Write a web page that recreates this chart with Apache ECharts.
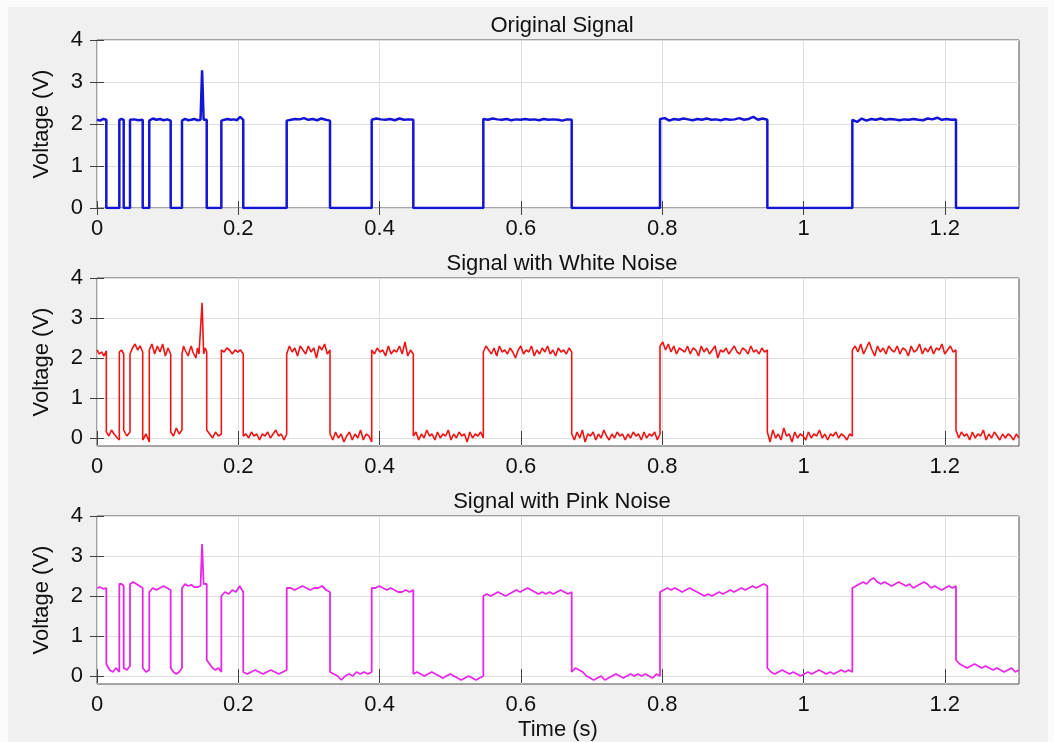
<!DOCTYPE html>
<html>
<head>
<meta charset="utf-8">
<script src="https://cdn.jsdelivr.net/npm/echarts@6/dist/echarts.min.js"></script>
<style>
  html, body { margin: 0; padding: 0; background: #fafafa; }
  #main { width: 1054px; height: 742px; }
</style>
</head>
<body>
<div id="main"></div>
<script>
// switching times (s), shared by the three traces
var edges = [0.0132, 0.0316, 0.0378, 0.0467, 0.0647, 0.074, 0.1043, 0.1203, 0.1553, 0.176, 0.207,
  0.2685, 0.3298, 0.3888, 0.4477, 0.5468, 0.6719, 0.7969, 0.9488, 1.0691, 1.2158];
var tEnd = 1.305;
var xTicks = [0, 0.2, 0.4, 0.6, 0.8, 1, 1.2];
var yTicks = [0, 1, 2, 3, 4];
var titles = ['Original Signal', 'Signal with White Noise', 'Signal with Pink Noise'];

// samples per segment
var origSeg = [
  [2.1, 2.08, 2.12, 2.1],
  [0, 0],
  [2.1, 2.12, 2.1],
  [0, 0],
  [2.1, 2.11, 2.09, 2.1],
  [0, 0],
  [2.08, 2.13, 2.1, 2.12, 2.09, 2.11, 2.08],
  [0, 0],
  [2.08, 2.1, 2.12, 2.1, 2.09, 2.11, 2.1, 2.08, 2.12, 2.1, 2.09, 2.11, 2.1, 3.28, 2.1, 2.12, 2.1],
  [0, 0],
  [2.08, 2.1, 2.12, 2.1, 2.11, 2.09, 2.17, 2.1],
  [0, 0],
  [2.08, 2.1, 2.12, 2.11, 2.14, 2.1, 2.12, 2.09, 2.13, 2.1, 2.08],
  [0, 0],
  [2.1, 2.13, 2.11, 2.1, 2.12, 2.09, 2.13, 2.1, 2.11, 2.1],
  [0, 0],
  [2.12, 2.1, 2.13, 2.11, 2.1, 2.12, 2.09, 2.11, 2.1, 2.12, 2.1, 2.11, 2.09, 2.12, 2.1, 2.11, 2.1, 2.08, 2.11, 2.1],
  [0, 0],
  [2.12, 2.14, 2.08, 2.12, 2.1, 2.13, 2.11, 2.09, 2.12, 2.1, 2.13, 2.1, 2.11, 2.09, 2.12, 2.1, 2.11, 2.14, 2.1, 2.12, 2.17, 2.1, 2.13, 2.1],
  [0, 0],
  [2.1, 2.05, 2.13, 2.08, 2.12, 2.1, 2.13, 2.1, 2.12, 2.11, 2.09, 2.11, 2.1, 2.12, 2.1, 2.09, 2.13, 2.11, 2.15, 2.1, 2.12, 2.1, 2.11],
  [0, 0]
];

var whiteSeg = [
  [2.2, 2.1, 2.15, 2.05, 2.18],
  [0.15, 0.05, 0.2, 0.1, 0.02, -0.05],
  [2.15, 2.2, 2.1],
  [0.2, 0.05, 0.15],
  [2.1, 2.25, 2.35, 2.2, 2.3, 2.15],
  [-0.05, 0.1, -0.1],
  [2.2, 2.35, 2.1, 2.3, 2.15, 2.35, 2.05, 2.25, 2.1],
  [0.15, 0.05, 0.25, 0.1, 0.2],
  [2.1, 2.3, 2.2, 2.25, 2.05, 2.2, 2.3, 2.15, 2.2, 2.0, 2.25, 2.1, 2.15, 3.38, 2.1, 2.25, 2.15],
  [0.2, 0.1, 0.0, 0.15, 0.05, 0.1],
  [2.2, 2.15, 2.25, 2.2, 2.1, 2.2, 2.15, 2.2, 2.1],
  [0.05, 0.1, 0.0, 0.15, 0.05, 0.1, -0.05, 0.1, 0.05, 0.15, 0.0, 0.1, 0.2, 0.05, 0.1, -0.05, 0.1],
  [2.1, 2.3, 2.15, 2.25, 2.05, 2.3, 2.2, 2.1, 2.3, 2.15, 2.25, 2.0, 2.3, 2.2, 2.35, 2.1, 2.2],
  [0.1, -0.05, 0.15, 0.0, 0.1, -0.1, 0.05, 0.15, -0.05, 0.1, 0.0, 0.2, -0.05, 0.1, 0.05, -0.1],
  [2.2, 2.1, 2.25, 2.15, 2.2, 2.05, 2.3, 2.1, 2.2, 2.15, 2.3, 2.1, 2.4, 2.05, 2.2, 2.1],
  [0.05, 0.15, -0.05, 0.1, 0.0, 0.2, 0.05, 0.1, -0.05, 0.15, 0.0, 0.1, 0.05, 0.2, -0.05, 0.1, 0.0, 0.15, 0.05, 0.1, -0.1, 0.15, 0.0, 0.1, 0.05, 0.15, 0.0],
  [2.15, 2.3, 2.2, 2.1, 2.25, 2.05, 2.3, 2.15, 2.2, 2.1, 2.25, 2.15, 2.0, 2.2, 2.3, 2.1, 2.2, 2.15, 2.3, 2.05, 2.2, 2.1, 2.25, 2.15, 2.3, 2.1, 2.2, 2.05, 2.25, 2.15, 2.2, 2.1, 2.25, 2.15],
  [0.1, -0.05, 0.15, 0.0, 0.2, -0.1, 0.1, 0.05, 0.15, -0.05, 0.1, 0.0, 0.2, 0.05, -0.05, 0.1, 0.0, 0.15, 0.05, 0.1, -0.05, 0.1, 0.0, 0.15, 0.05, 0.1, -0.05, 0.15, 0.0, 0.1, 0.05, 0.15, -0.05, 0.1],
  [2.3, 2.4, 2.2, 2.35, 2.15, 2.3, 2.1, 2.25, 2.2, 2.15, 2.3, 2.1, 2.25, 2.2, 2.05, 2.3, 2.15, 2.25, 2.1, 2.2, 2.3, 2.0, 2.2, 2.15, 2.25, 2.1, 2.2, 2.3, 2.15, 2.1, 2.25, 2.2, 2.1, 2.3, 2.15, 2.2, 2.1, 2.25, 2.15, 2.2],
  [0.15, -0.1, 0.2, 0.0, 0.1, -0.05, 0.25, 0.05, 0.1, -0.1, 0.15, 0.0, 0.1, 0.05, -0.05, 0.15, 0.0, 0.1, 0.05, 0.2, 0.0, 0.1, -0.05, 0.1, 0.05, 0.15, 0.0, 0.1, 0.05, -0.05, 0.1, 0.05],
  [2.2, 2.3, 2.15, 2.35, 2.1, 2.25, 2.4, 2.2, 2.05, 2.3, 2.15, 2.25, 2.1, 2.3, 2.2, 2.15, 2.3, 2.1, 2.25, 2.2, 2.05, 2.3, 2.15, 2.2, 2.35, 2.1, 2.25, 2.15, 2.3, 2.1, 2.25, 2.2, 2.35, 2.1, 2.2, 2.3, 2.15, 2.2],
  [0.2, 0.0, 0.15, 0.05, 0.1, -0.05, 0.15, 0.0, 0.1, 0.05, 0.2, -0.05, 0.1, 0.0, 0.15, 0.05, -0.05, 0.1, 0.0, 0.1, 0.05, -0.05, 0.1, 0.0]
];

var pinkSeg = [
  [2.2, 2.22, 2.18, 2.2],
  [0.3, 0.15, 0.1, 0.2, 0.1],
  [2.3, 2.3, 2.25],
  [0.2, 0.15, 0.25],
  [2.3, 2.35, 2.3, 2.25, 2.2],
  [0.2, 0.1, 0.15],
  [2.1, 2.2, 2.15, 2.2, 2.25, 2.2, 2.15],
  [0.2, 0.1, 0.05, 0.1, 0.2],
  [2.2, 2.25, 2.3, 2.3, 2.25, 2.25, 2.28, 2.25, 2.22, 2.2, 2.22, 2.2, 2.25, 3.3, 2.3, 2.25, 2.3],
  [0.4, 0.3, 0.2, 0.15, 0.2, 0.1],
  [2.0, 2.1, 2.05, 2.15, 2.1, 2.25, 2.1],
  [0.1, 0.05, 0.1, 0.15, 0.1, 0.05, 0.1, 0.15, 0.1, 0.05, 0.1, 0.15],
  [2.2, 2.2, 2.15, 2.2, 2.25, 2.2, 2.15, 2.2, 2.2, 2.25, 2.15, 2.1],
  [0.1, 0.05, 0.0, -0.1, 0.0, 0.05, 0.0, 0.1, 0.05, 0.1, 0.05, 0.1],
  [2.2, 2.2, 2.25, 2.2, 2.15, 2.2, 2.15, 2.1, 2.1, 2.15, 2.1, 2.15],
  [0.05, 0.1, 0.05, 0.0, 0.05, 0.1, 0.05, 0.0, -0.05, 0.0, 0.05, 0.0, -0.05, -0.1, -0.05, 0.0, -0.05, -0.1, -0.05, 0.0],
  [2.0, 2.05, 2.0, 2.05, 2.1, 2.05, 2.0, 2.05, 2.1, 2.15, 2.1, 2.15, 2.2, 2.15, 2.1, 2.05, 2.1, 2.05, 2.1, 2.05, 2.1, 2.15, 2.1, 2.05, 2.1],
  [0.1, 0.2, 0.15, 0.1, 0.0, -0.05, -0.1, -0.05, 0.0, -0.1, -0.05, 0.0, 0.05, 0.0, -0.05, 0.0, 0.05, 0.0, 0.05, 0.0, 0.05, 0.0, -0.05, 0.05, 0.0],
  [2.1, 2.15, 2.2, 2.15, 2.2, 2.15, 2.1, 2.15, 2.2, 2.15, 2.1, 2.05, 2.0, 2.05, 2.0, 2.05, 2.1, 2.05, 2.1, 2.15, 2.1, 2.15, 2.2, 2.15, 2.2, 2.25, 2.2, 2.25, 2.3, 2.25],
  [0.2, 0.1, 0.05, 0.1, 0.15, 0.1, 0.05, 0.1, 0.05, 0.0, 0.05, 0.1, 0.05, 0.1, 0.15, 0.1, 0.05, 0.1, 0.05, 0.1, 0.15, 0.1, 0.15, 0.1],
  [2.2, 2.25, 2.3, 2.35, 2.3, 2.4, 2.45, 2.35, 2.3, 2.35, 2.3, 2.25, 2.3, 2.35, 2.3, 2.25, 2.3, 2.2, 2.25, 2.3, 2.35, 2.3, 2.2, 2.25, 2.2, 2.15, 2.2, 2.25, 2.2, 2.25],
  [0.4, 0.3, 0.25, 0.2, 0.25, 0.3, 0.25, 0.2, 0.25, 0.2, 0.15, 0.2, 0.15, 0.1, 0.15, 0.2, 0.1, 0.15]
];

var chart = echarts.init(document.getElementById('main'));
var font = "'Liberation Sans', Arial, sans-serif";
var bounds = [0].concat(edges, [tEnd]);

function build(segs) {
  var pts = [];
  for (var i = 0; i < segs.length; i++) {
    var a = bounds[i], b = bounds[i + 1], vals = segs[i], n = vals.length;
    for (var k = 0; k < n; k++) {
      pts.push([a + (b - a) * k / (n - 1), vals[k]]);
    }
  }
  return pts;
}

var tops = [40, 278, 516];
var yMins = [0, -0.2, -0.2];
var colors = ['#1414d4', '#f01414', '#e628e6'];
var widths = [2.5, 1.6, 1.8];
var allSegs = [origSeg, whiteSeg, pinkSeg];

var grids = [], xAxes = [], yAxes = [], series = [], titleList = [];
for (var g = 0; g < 3; g++) {
  grids.push({
    left: 97, top: tops[g], width: 922, height: 168,
    show: true, backgroundColor: '#ffffff', borderColor: '#505050', borderWidth: 1
  });
  titleList.push({
    text: titles[g], left: 557, top: tops[g] - 30, textAlign: 'center',
    textStyle: { fontFamily: font, fontSize: 22, fontWeight: 'normal', color: '#111' }
  });
  xAxes.push({
    type: 'value', gridIndex: g, min: 0, max: tEnd, position: 'bottom',
    axisLine: { show: false },
    axisTick: { show: true, inside: true, length: 7, lineStyle: { color: '#404040' }, customValues: xTicks },
    axisLabel: { show: true, margin: 10, fontFamily: font, fontSize: 22, color: '#111', customValues: xTicks,
      formatter: function (v) { return String(v); } },
    splitLine: { show: true, lineStyle: { color: '#dedede', width: 1 } },
    name: g === 2 ? 'Time (s)' : '', nameLocation: 'middle', nameGap: 35,
    nameTextStyle: { fontFamily: font, fontSize: 22, color: '#111' }
  });
  xAxes.push({
    type: 'value', gridIndex: g, min: 0, max: tEnd, position: 'top',
    axisLine: { show: false },
    axisTick: { show: true, inside: true, length: 7, lineStyle: { color: '#404040' }, customValues: xTicks },
    axisLabel: { show: false }, splitLine: { show: false }
  });
  yAxes.push({
    type: 'value', gridIndex: g, min: yMins[g], max: 4, position: 'left',
    axisLine: { show: false },
    axisTick: { show: true, inside: true, length: 7, lineStyle: { color: '#404040' }, customValues: yTicks },
    axisLabel: { show: true, margin: 14, fontFamily: font, fontSize: 22, color: '#111', customValues: yTicks },
    splitLine: { show: true, lineStyle: { color: '#dedede', width: 1 } },
    name: 'Voltage (V)', nameLocation: 'middle', nameGap: 44,
    nameTextStyle: { fontFamily: font, fontSize: 22, color: '#111' }
  });
  yAxes.push({
    type: 'value', gridIndex: g, min: yMins[g], max: 4, position: 'right',
    axisLine: { show: false },
    axisTick: { show: true, inside: true, length: 7, lineStyle: { color: '#404040' }, customValues: yTicks },
    axisLabel: { show: false }, splitLine: { show: false }
  });
  series.push({
    type: 'line', xAxisIndex: 2 * g, yAxisIndex: 2 * g,
    data: build(allSegs[g]), showSymbol: false, symbol: 'none',
    lineStyle: { color: colors[g], width: widths[g] }, itemStyle: { color: colors[g] },
    animation: false
  });
}

chart.setOption({
  backgroundColor: '#fafafa',
  animation: false,
  graphic: { elements: [{ type: 'rect', z: -100, silent: true,
    shape: { x: 8, y: 7, width: 1040, height: 735 }, style: { fill: '#f0f0f0' } }] },
  title: titleList,
  grid: grids,
  xAxis: xAxes,
  yAxis: yAxes,
  series: series
});
</script>
</body>
</html>
